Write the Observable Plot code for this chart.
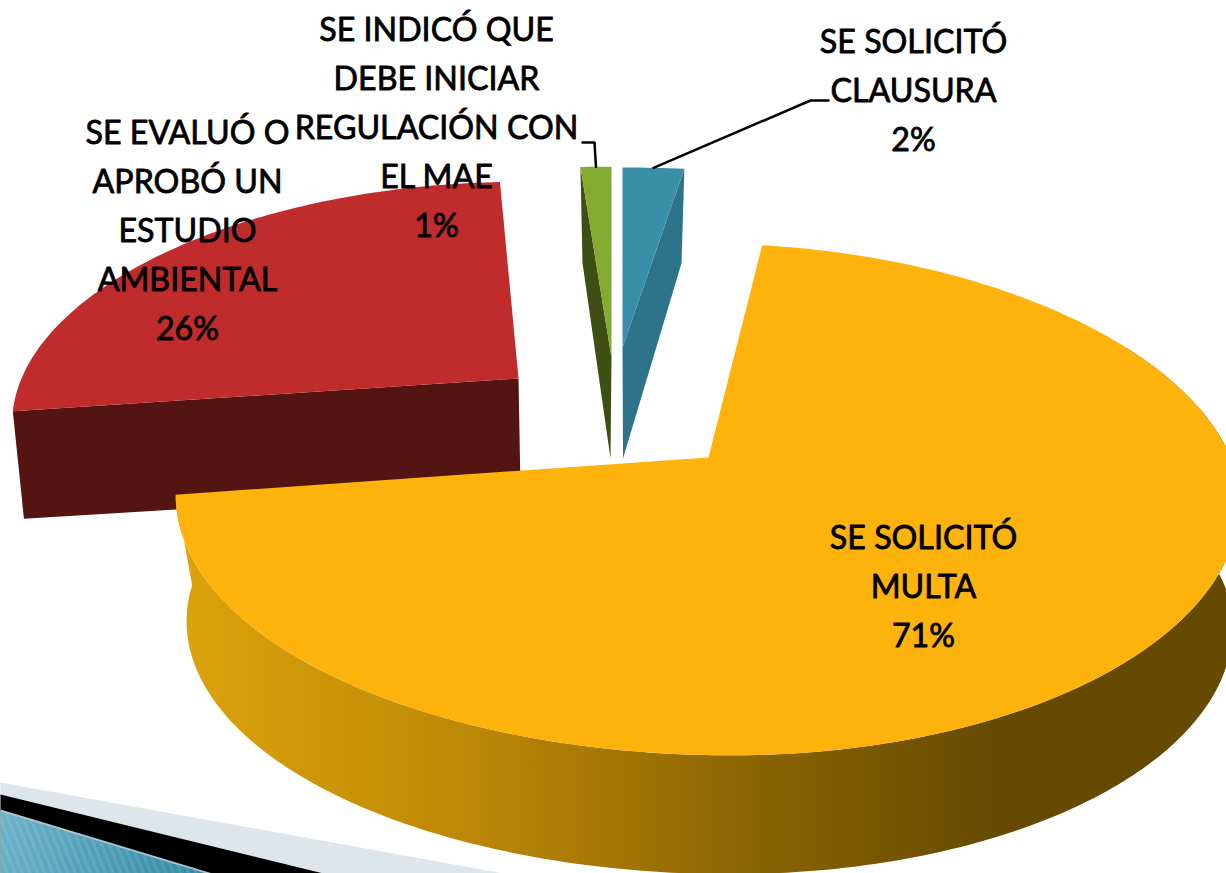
<!DOCTYPE html>
<html>
<head>
<meta charset="utf-8">
<script src="https://cdn.jsdelivr.net/npm/d3@7"></script>
<script src="https://cdn.jsdelivr.net/npm/@observablehq/plot@0.6"></script>
<style>html,body{margin:0;padding:0;background:#fff;overflow:hidden}svg{display:block}</style>
</head>
<body>
<div id="chart"></div>
<script>
// Data, clockwise from twelve o'clock
const categories = ["SE SOLICITÓ\nCLAUSURA", "SE SOLICITÓ\nMULTA", "SE EVALUÓ O\nAPROBÓ UN\nESTUDIO\nAMBIENTAL", "SE INDICÓ QUE\nDEBE INICIAR\nREGULACIÓN CON\nEL MAE"];
const shares = [2.1, 71, 26.1, 0.8];

// Layout: exploded-slice placement under a perspective tilt
const W = 1226, H = 873, K = 0.164;
const geom = [
  {top:{ax:622,ay:347,rx:547,ry:209.5}, bot:{ax:622.5,ay:458,rx:517,ry:229}, face:"#3a8fa8", wall:"#2d7389", label:[913,85.5]},
  {top:{ax:706,ay:457,rx:527,ry:249,b:7,s:-4,f:24}, bot:{ax:708,ay:583,rx:518,ry:243,b:7,s:-6,f:22}, face:"#fdb20c", wall:"url(#wall)", label:[923,581.5]},
  {top:{ax:518,ay:378,rx:499,ry:229,b:5,s:3}, bot:{ax:520,ay:488,rx:490,ry:225,b:3,s:3}, face:"#c02b2c", wall:"#531412", label:[187,225.5]},
  {top:{ax:611,ay:357,rx:719,ry:222}, bot:{ax:610,ay:458,rx:649,ry:228}, face:"#85aa30", wall:"#3f4e15", label:[436,122.5]}
];
const project = (p, deg) => {
  const a = deg * Math.PI / 180, u = Math.sin(a), v = Math.cos(a), w = 1 + K * v;
  const shift = (p.f !== undefined && v < 0) ? -v * (p.f - 1.36 * p.f * Math.max(0, u)) : (p.s || 0) * v;
  return [p.ax + p.rx * u / w + shift, p.ay - p.ry * v / w + (p.b || 0) * u * u];
};
const arc = (p, a0, a1) => {
  const n = Math.max(2, Math.ceil(Math.abs(a1 - a0)));
  return d3.range(n + 1).map(i => project(p, a0 + (a1 - a0) * i / n));
};
const total = d3.sum(shares);
let acc = 0;
const slices = shares.map((s, i) => {
  const a0 = acc / total * 360; acc += s;
  return {i, a0, a1: acc / total * 360, ...geom[i]};
});
const face = s => [[s.i === 1 ? 708 : s.top.ax, s.top.ay], ...arc(s.top, s.a0, s.a1)];
const walls = [
  s => [[s.top.ax, s.top.ay], project(s.top, s.a1), project(s.bot, s.a1), [s.bot.ax, s.bot.ay]],                 // blue: trailing radial wall
  s => [...arc(s.top, 60, s.a1), ...arc(s.bot, s.a1 + 8, 60)],                                                  // yellow: outer rim
  s => [[s.top.ax, s.top.ay], project(s.top, s.a0), project(s.bot, s.a0), [s.bot.ax, s.bot.ay]],                 // red: leading radial wall
  s => [[s.top.ax, s.top.ay], project(s.top, s.a0), project(s.bot, s.a0), [s.bot.ax, s.bot.ay]]                  // green: leading radial wall
];
const poly = (pts, fill) => Plot.line(pts, {x: d => d[0], y: d => d[1], fill, stroke: "none", curve: "linear-closed"});
const mid = s => project(s.top, (s.a0 + s.a1) / 2);

// Slide decoration, lower-left corner
const band1 = [[0,782],[503,873],[0,873]], band2 = [[0,794],[323,873],[0,873]], band3 = [[0,809],[212,873],[0,873]], band4 = [[0,811],[206,873],[0,873]];

const order = [2, 3, 0, 1];
const labels = slices.map(s => ({x: s.label[0], y: s.label[1], text: categories[s.i] + "\n" + Math.round(shares[s.i]) + "%"}));

const chart = Plot.plot({
  width: W, height: H, margin: 0,
  x: {domain: [0, W], range: [0, W], axis: null},
  y: {domain: [0, H], range: [0, H], axis: null},
  marks: [
    () => {
      const ns = "http://www.w3.org/2000/svg";
      const defs = document.createElementNS(ns, "defs");
      defs.innerHTML = `
        <linearGradient id="wall" gradientUnits="userSpaceOnUse" x1="180" y1="0" x2="1000" y2="0">
          <stop offset="0" stop-color="#dca30b"/><stop offset="0.35" stop-color="#bd8806"/>
          <stop offset="0.7" stop-color="#8a6403"/><stop offset="1" stop-color="#664a02"/>
        </linearGradient>
        <linearGradient id="teal" gradientUnits="userSpaceOnUse" x1="0" y1="810" x2="210" y2="873">
          <stop offset="0" stop-color="#6fb2c8"/><stop offset="1" stop-color="#2f8aa6"/>
        </linearGradient>
        <pattern id="stripes" patternUnits="userSpaceOnUse" width="7" height="7" patternTransform="rotate(-22)">
          <rect width="3" height="7" fill="#ffffff" fill-opacity="0.09"/>
        </pattern>`;
      return defs;
    },
    poly(band1, "#dce6ed"), poly(band2, "#000000"), poly(band3, "#a9c6d2"), poly(band4, "url(#teal)"), poly(band4, "url(#stripes)"),
    ...order.flatMap(i => [
      poly(walls[i](slices[i]), slices[i].wall),
      poly(face(slices[i]), slices[i].face)
    ]),
    Plot.line([mid(slices[0]), [810, 100], [828, 100]], {x: d => d[0], y: d => d[1], stroke: "#000", strokeWidth: 2.5}),
    Plot.line([mid(slices[3]), [594, 142], [582, 142]], {x: d => d[0], y: d => d[1], stroke: "#000", strokeWidth: 2.5}),
    Plot.text(labels, {x: "x", y: "y", text: "text", fill: "#000", stroke: "#000", strokeWidth: 0.8, fontFamily: "Lato", fontSize: 32.2, lineHeight: 49 / 32.2, textAnchor: "middle", lineAnchor: "middle"})
  ]
});
document.getElementById("chart").append(chart);
</script>
</body>
</html>
